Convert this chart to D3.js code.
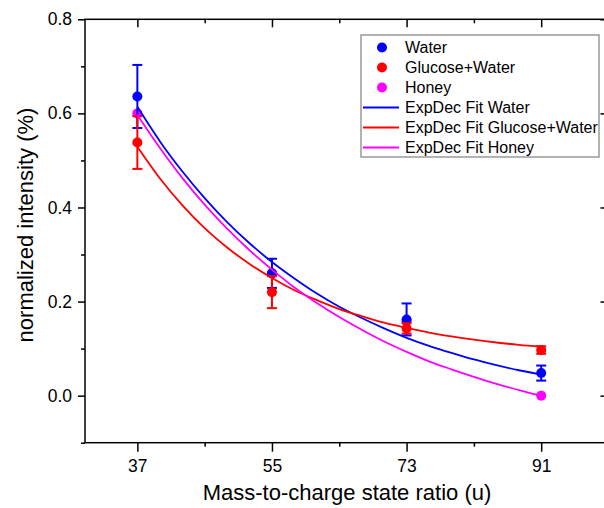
<!DOCTYPE html>
<html>
<head>
<meta charset="utf-8">
<script src="https://cdn.jsdelivr.net/npm/d3@7"></script>
<style>
  body { margin: 0; background: #fff; }
  text { font-family: "Liberation Sans", Arial, sans-serif; fill: #000; }
</style>
</head>
<body>
<div id="chart"></div>
<script>
// measured points (m/z)
const massValues = [37, 55, 73, 91];
const waterValues = [0.636, 0.260, 0.162, 0.048];
const waterErrors = [0.067, 0.031, 0.034, 0.016];
const glucoseValues = [0.538, 0.220, 0.143, 0.097];
const glucoseErrors = [0.056, 0.034, 0.011, 0.008];
const honeyValues = [0.600, 0.260, 0.158, 0.000];

// fit curves, every 3 u
const fitMass = [37, 40, 43, 46, 49, 52, 55, 58, 61, 64, 67, 70, 73, 76, 79, 82, 85, 88, 91];
const fitWater = [0.614, 0.541, 0.477, 0.420, 0.369, 0.324, 0.284, 0.249, 0.217, 0.189, 0.165, 0.143, 0.123, 0.106, 0.091, 0.077, 0.065, 0.054, 0.045];
const fitGlucose = [0.529, 0.462, 0.405, 0.356, 0.315, 0.280, 0.250, 0.224, 0.203, 0.184, 0.169, 0.155, 0.144, 0.134, 0.126, 0.119, 0.113, 0.108, 0.104];
const fitHoney = [0.597, 0.527, 0.463, 0.406, 0.355, 0.309, 0.268, 0.230, 0.197, 0.167, 0.140, 0.115, 0.093, 0.073, 0.056, 0.040, 0.025, 0.012, 0.000];

const xTicks = [37, 55, 73, 91];
const xMinorTicks = [46, 64, 82];
const yTicks = [0.0, 0.2, 0.4, 0.6, 0.8];
const yMinorTicks = [-0.1, 0.1, 0.3, 0.5, 0.7];

const legendLabels = ['Water', 'Glucose+Water', 'Honey', 'ExpDec Fit Water', 'ExpDec Fit Glucose+Water', 'ExpDec Fit Honey'];

const width = 604, height = 508;
const svg = d3.select('#chart').append('svg')
  .attr('width', width).attr('height', height);

const x = d3.scaleLinear().domain([30, 100]).range([85, 608.5]);
const y = d3.scaleLinear().domain([-0.1, 0.8]).range([442.7, 19.3]);

const colors = { water: '#0000ff', glucose: '#ff0000', honey: '#ff00ff' };

// axes
const fmt = d3.format('.1f');
svg.append('g').attr('transform', `translate(${x.range()[0]},0)`)
  .call(d3.axisLeft(y).tickValues(yTicks).tickFormat(fmt).tickSize(7).tickPadding(6))
  .call(g => g.select('.domain').remove());
svg.append('g').attr('transform', `translate(${x.range()[0]},0)`)
  .call(d3.axisLeft(y).tickValues(yMinorTicks).tickFormat('').tickSize(4))
  .call(g => g.select('.domain').remove());
svg.append('g').attr('transform', `translate(0,${y.range()[0]})`)
  .call(d3.axisBottom(x).tickValues(xTicks).tickFormat(d3.format('d')).tickSize(9).tickPadding(8))
  .call(g => g.select('.domain').remove());
svg.append('g').attr('transform', `translate(0,${y.range()[0]})`)
  .call(d3.axisBottom(x).tickValues(xMinorTicks).tickFormat('').tickSize(4))
  .call(g => g.select('.domain').remove());
// mirrored ticks, pointing inward
svg.append('g').attr('transform', `translate(0,${y.range()[1]})`)
  .call(d3.axisBottom(x).tickValues(xTicks).tickFormat('').tickSize(8))
  .call(g => g.select('.domain').remove());
svg.append('g').attr('transform', `translate(0,${y.range()[1]})`)
  .call(d3.axisBottom(x).tickValues(xMinorTicks).tickFormat('').tickSize(4))
  .call(g => g.select('.domain').remove());
svg.append('g').attr('transform', `translate(${x.range()[1]},0)`)
  .call(d3.axisLeft(y).tickValues(yTicks).tickFormat('').tickSize(8))
  .call(g => g.select('.domain').remove());
svg.append('g').attr('transform', `translate(${x.range()[1]},0)`)
  .call(d3.axisLeft(y).tickValues(yMinorTicks).tickFormat('').tickSize(4))
  .call(g => g.select('.domain').remove());

svg.selectAll('.tick line').attr('stroke', '#000').attr('stroke-width', 1.5);
svg.selectAll('.tick text').style('font-size', '17.5px').style('font-family', '"Liberation Sans", Arial, sans-serif');

svg.append('rect')
  .attr('x', x.range()[0]).attr('y', y.range()[1])
  .attr('width', x.range()[1] - x.range()[0]).attr('height', y.range()[0] - y.range()[1])
  .attr('fill', 'none').attr('stroke', '#000').attr('stroke-width', 1.5);

// axis titles
svg.append('text')
  .attr('x', 347).attr('y', 500)
  .attr('text-anchor', 'middle').style('font-size', '22px')
  .text('Mass-to-charge state ratio (u)');
svg.append('text')
  .attr('transform', `translate(33,225) rotate(-90)`)
  .attr('text-anchor', 'middle').style('font-size', '22px')
  .text('normalized intensity (%)');

// points + error bars
const plot = svg.append('g');
function drawSeries(vals, errs, color) {
  const g = plot.append('g');
  vals.forEach((v, i) => {
    const cx = x(massValues[i]);
    if (errs) {
      const e = errs[i];
      g.append('line').attr('x1', cx).attr('x2', cx)
        .attr('y1', y(v + e)).attr('y2', y(v - e))
        .attr('stroke', color).attr('stroke-width', 2);
      [v + e, v - e].forEach(t => {
        g.append('line').attr('x1', cx - 5).attr('x2', cx + 5)
          .attr('y1', y(t)).attr('y2', y(t))
          .attr('stroke', color).attr('stroke-width', 2);
      });
    }
    g.append('circle').attr('cx', cx).attr('cy', y(v)).attr('r', 5).attr('fill', color);
  });
}
// honey sits under the others at 55 and 73
drawSeries(honeyValues, null, colors.honey);
drawSeries(waterValues, waterErrors, colors.water);
drawSeries(glucoseValues, glucoseErrors, colors.glucose);

// fit lines
const line = d3.line()
  .x(d => x(d[0])).y(d => y(d[1]))
  .curve(d3.curveMonotoneX);
[[fitWater, colors.water], [fitGlucose, colors.glucose], [fitHoney, colors.honey]].forEach(([vals, c]) => {
  plot.append('path')
    .datum(vals.map((v, i) => [fitMass[i], v]))
    .attr('fill', 'none').attr('stroke', c).attr('stroke-width', 1.8)
    .attr('d', line);
});

// legend
const lg = svg.append('g');
lg.append('rect').attr('x', 361).attr('y', 35).attr('width', 238).attr('height', 122)
  .attr('fill', '#fff').attr('stroke', '#808080').attr('stroke-width', 1.2);
const legendColors = [colors.water, colors.glucose, colors.honey, colors.water, colors.glucose, colors.honey];
legendLabels.forEach((lab, i) => {
  const cy = 47.5 + i * 20;
  if (i < 3) {
    lg.append('circle').attr('cx', 382).attr('cy', cy).attr('r', 5).attr('fill', legendColors[i]);
  } else {
    lg.append('line').attr('x1', 363).attr('x2', 399).attr('y1', cy).attr('y2', cy)
      .attr('stroke', legendColors[i]).attr('stroke-width', 1.8);
  }
  lg.append('text').attr('x', 405).attr('y', cy + 5.5)
    .style('font-size', '16px').text(lab);
});
</script>
</body>
</html>
